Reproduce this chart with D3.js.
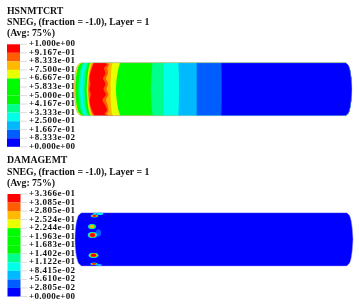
<!DOCTYPE html>
<html>
  <head>
    <meta http-equiv="Content-Type" content="text/html; charset=utf-8" />
    <script src="https://d3js.org/d3.v7.min.js"></script>
    <style>
      body { margin: 0; background: white; }
      svg { display: block; filter: blur(0.4px); }
      text { font-family: 'Liberation Serif', serif; font-weight: bold; fill: #111; }
    </style>
  </head>
  <body>
    <div id="wrapper"></div>
    <script>

const w = 359
const h = 305

// contour colours, lowest value first
const spectrum = ["#0000ff","#005dff","#00b9ff","#00ffe8","#00ff8b","#00f800","#00fa00","#00fc00","#e8ff00","#ffb900","#ff5d00","#ff0000"]

const heatTitle = ["HSNMTCRT", "SNEG, (fraction = -1.0), Layer = 1", "(Avg: 75%)"]
const damageTitle = ["DAMAGEMT", "SNEG, (fraction = -1.0), Layer = 1", "(Avg: 75%)"]

const heatLabels = ["+1.000e+00","+9.167e-01","+8.333e-01","+7.500e-01","+6.667e-01","+5.833e-01","+5.000e-01","+4.167e-01","+3.333e-01","+2.500e-01","+1.667e-01","+8.333e-02","+0.000e+00"]
const damageLabels = ["+3.366e-01","+3.085e-01","+2.805e-01","+2.524e-01","+2.244e-01","+1.963e-01","+1.683e-01","+1.402e-01","+1.122e-01","+8.415e-02","+5.610e-02","+2.805e-02","+0.000e+00"]

// around the cylinder, 0 = top edge, 1 = bottom edge
const stations = [0,0.04,0.1,0.2,0.3,0.4,0.5,0.6,0.7,0.8,0.9,0.96,1]
// end caps, axial position
const capLeft = [6.5,4,2.5,1.2,0.5,0.1,0,0.1,0.5,1.2,2.5,4,6.5]
const capRight = [271.7,274,275.5,276.6,277.3,277.7,278,277.7,277.3,276.6,275.5,274,271.7]

// HSNMTCRT band edges, each one is axial position per station, left to right
const edgeYellowA = [7.2,4.7,3.2,1.9,1.2,0.8,0.7,0.8,1.2,1.9,3.2,4.7,7.2]
const edgeGreenA = [8,5.6,3.9,2.6,1.9,1.4,1.3,1.4,1.9,2.6,3.9,5.6,8]
const edgeTealA = [10,8,6.8,5.6,4.9,4.5,4.3,4.5,4.9,5.6,6.8,8,10]
const edgeCyan = [11.5,9.7,8.4,7.2,6.6,6.2,6,6.2,6.6,7.2,8.4,9.7,11.5]
const edgeTealB = [13.5,12,11,10,9.3,8.9,8.7,8.9,9.3,10,11,12,13.5]
const edgeGreenB = [15,13.8,12.8,11.9,11.3,10.9,10.7,10.9,11.3,11.9,12.8,13.8,15]
const edgeYellowB = [16.6,15.6,14.8,13.9,13.3,12.9,12.7,12.9,13.3,13.9,14.8,15.6,16.6]
const edgeOrangeB = [17.6,16.6,15.8,14.9,14.3,13.9,13.7,13.9,14.3,14.9,15.8,16.6,17.6]
const edgeRedOrangeB = [19,18,17,15.6,15,14.6,14.3,14.6,15,15.6,17,18,19]
const edgeRed = [20,19.2,18,16.2,15.4,16.4,15.4,16.8,15.6,16.2,18,19.4,20.5]
const edgeRedOrangeC = [31,33,30,31.5,29,31.5,29.5,32,28.5,31,33,30.5,33]
const edgeOrangeC = [34,35,33.5,34,32,34,32.5,34.5,32,33.5,34.5,33,34.5]
const edgeYellowC = [39,38,37.5,37,36.8,36.5,36.7,36.5,36.8,37,37.5,38,39]
const edgeGreenC = [46,45.5,44.5,43.5,42.7,42.2,42,42.2,42.7,43.5,44.5,45.5,46]
const edgeTealC = [78.5,78.3,78,77.6,77.2,76.9,76.7,76.9,77.2,77.6,78,78.3,78.5]
const edgeCyanC = [89.8,89.6,89.4,89.2,89.1,89,89,89,89.1,89.2,89.4,89.6,89.8]
const edgeLightBlue = [104.2,104.4,104.6,104.8,104.9,105,105,105,104.9,104.8,104.6,104.4,104.2]
const edgeMidBlue = [122.7,122.7,122.7,122.7,122.7,122.7,122.7,122.7,122.7,122.7,122.7,122.7,122.7]
const edgeBlue = [147.2,147.4,147.5,147.6,147.7,147.7,147.7,147.7,147.7,147.6,147.5,147.4,147.2]

const heatEdges = [edgeYellowA,edgeGreenA,edgeTealA,edgeCyan,edgeTealB,edgeGreenB,edgeYellowB,edgeOrangeB,edgeRedOrangeB,edgeRed,edgeRedOrangeC,edgeOrangeC,edgeYellowC,edgeGreenC,edgeTealC,edgeCyanC,edgeLightBlue,edgeMidBlue,edgeBlue]
// colour level to the right of each edge, the cap itself starts at level 9
const heatLevels = [8,7,4,3,4,7,8,9,10,11,10,9,8,7,4,3,2,1,0]
const capLevel = 9

// DAMAGEMT hot spots: axial position, place around the cylinder, level reached, half sizes
const spotAxial = [19.5,25,20,17,17.5,18.5,19,24]
const spotAround = [0.06,0.015,0.01,0.26,0.42,0.8,0.96,0.98]
const spotLevel = [11,3,4,9,11,11,11,2]
const spotRx = [3.8,3.6,2,4,4.8,5,3.8,3]
const spotRy = [1.4,1.6,1,2.6,3,2.6,1.2,1]
const faintAxial = [23.5]
const faintAround = [0.38]

function doSVG() {
  const svg = d3.select("#wrapper").append("svg")
    .attr("width",w)
    .attr("height",h)

  function drawHeader(lines, baselines, labels, boxX, boxTop) {
    svg.selectAll(null).data(lines).enter().append("text")
      .attr("x",7)
      .attr("y",(d,i)=>baselines[i])
      .attr("font-size",9.8)
      .text(d=>d)

    const legendY = d3.scaleLinear().domain([0,12]).range([boxTop,boxTop+102.5])
    const fromTop = spectrum.slice().reverse()

    svg.selectAll(null).data(fromTop).enter().append("rect")
      .attr("x",boxX)
      .attr("y",(d,i)=>legendY(i))
      .attr("width",13)
      .attr("height",legendY(1)-legendY(0))
      .attr("fill",d=>d)

    svg.selectAll(null).data(labels).enter().append("line")
      .attr("x1",boxX+13)
      .attr("x2",27)
      .attr("y1",(d,i)=>legendY(i))
      .attr("y2",(d,i)=>legendY(i))
      .attr("stroke","#c4c4c4")
      .attr("stroke-width",0.6)

    svg.selectAll(null).data(labels).enter().append("text")
      .attr("x",29)
      .attr("y",(d,i)=>legendY(i)+2)
      .attr("font-size",9)
      .attr("textLength",46)
      .text(d=>d)
  }

  function drawCylinder(id, left, top, bottom) {
    const x = d3.scaleLinear().domain([0,278]).range([left,left+278])
    const y = d3.scaleLinear().domain([0,1]).range([top,bottom])

    const rows = stations.map((v,i)=>({v:v,i:i}))
    const side = d3.line().curve(d3.curveMonotoneY).y(d=>y(d.v))
    const leftPath = side.x(d=>x(capLeft[d.i]))(rows)
    const rightPath = side.x(d=>x(capRight[d.i]))(rows.slice().reverse())
    const outline = leftPath + "L" + rightPath.slice(1) + "Z"

    svg.append("clipPath").attr("id",id).append("path").attr("d",outline)
    const g = svg.append("g").attr("clip-path","url(#"+id+")")

    return {x:x, y:y, rows:rows, outline:outline, g:g}
  }

  function finishCylinder(c, edgeColour) {
    svg.append("path")
      .attr("d",c.outline)
      .attr("fill","none")
      .attr("stroke",edgeColour)
      .attr("stroke-width",0.5)
  }

  // HSNMTCRT
  drawHeader(heatTitle,[14,25,35.7],heatLabels,7,44.3)
  const top = drawCylinder("clipHeat",74,62.7,115.7)
  top.g.append("rect")
    .attr("x",top.x(0)).attr("y",top.y(0))
    .attr("width",top.x(278)-top.x(0)).attr("height",top.y(1)-top.y(0))
    .attr("fill",spectrum[capLevel])

  heatEdges.forEach((edge,k)=>{
    const band = d3.area().curve(d3.curveMonotoneY)
      .y(d=>top.y(d.v))
      .x0(d=>top.x(edge[d.i]))
      .x1(top.x(278))
    top.g.append("path")
      .attr("d",band(top.rows))
      .attr("fill",spectrum[heatLevels[k]])
  })
  finishCylinder(top,"#b9b9d8")

  // DAMAGEMT
  drawHeader(damageTitle,[163,175,185.7],damageLabels,7.5,194)
  const low = drawCylinder("clipDamage",75,212.7,266)
  low.g.append("rect")
    .attr("x",low.x(0)).attr("y",low.y(0))
    .attr("width",low.x(278)-low.x(0)).attr("height",low.y(1)-low.y(0))
    .attr("fill",spectrum[0])

  low.g.selectAll(null).data(faintAxial).enter().append("ellipse")
    .attr("cx",d=>low.x(d))
    .attr("cy",(d,i)=>low.y(faintAround[i]))
    .attr("rx",2.6)
    .attr("ry",3.6)
    .attr("fill",spectrum[1])

  // each spot is painted as rings from its rim up to its peak level, hot core kept wide
  spotAxial.forEach((a,k)=>{
    const rings = [2,3,5,9,11].filter(l=>l<=spotLevel[k])
    low.g.selectAll(null).data(rings).enter().append("ellipse")
      .attr("cx",low.x(a))
      .attr("cy",low.y(spotAround[k]))
      .attr("rx",(d,i)=>spotRx[k]*(1-i/rings.length*0.55))
      .attr("ry",(d,i)=>spotRy[k]*(1-i/rings.length*0.4))
      .attr("fill",d=>spectrum[d])
  })
  finishCylinder(low,"#9a9af0")
}
doSVG();

    </script>
  </body>
</html>
